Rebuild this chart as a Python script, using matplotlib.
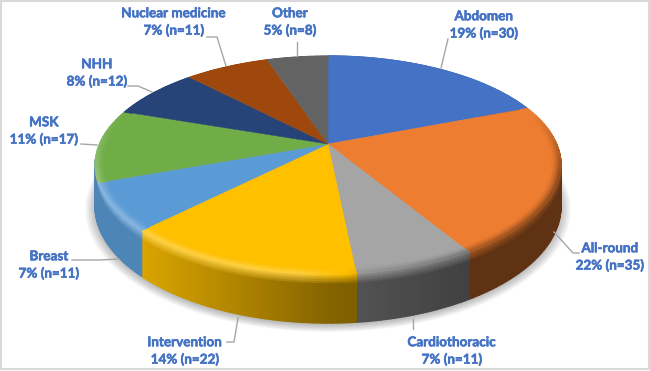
import matplotlib
import matplotlib.pyplot as plt
import matplotlib.patheffects as pe
import numpy as np

from matplotlib.collections import PolyCollection
from matplotlib.patches import Rectangle


matplotlib.use('Agg')

categories = ['Abdomen', 'All-round', 'Cardiothoracic', 'Intervention', 'Breast',
              'MSK', 'NHH', 'Nuclear medicine', 'Other']
counts = [30, 35, 11, 22, 11, 17, 12, 11, 8]
percents = [19, 22, 7, 14, 7, 11, 8, 7, 5]
colors = ['#4472c4', '#ed7d31', '#a5a5a5', '#ffc000', '#5b9bd5',
          '#70ad47', '#264478', '#9e480e', '#636363']

# centre of the two line label, in pixels
label_x = [484, 610, 452, 185, 49, 44, 97, 174, 290]
label_y = [25, 257, 351, 351, 265, 131, 73, 22, 22]

leader_lines = [
    [(441, 68), (448, 39)],
    [(554, 232), (573, 253), (579, 253)],
    [(413, 319), (413, 329)],
    [(238, 318), (234, 342), (227, 342)],
    [(119, 259), (100, 260), (72, 260)],
    [(97, 145), (81, 144)],
    [(152, 92), (138, 86), (128, 86)],
    [(226, 66), (217, 37), (207, 37)],
    [(297, 56), (297, 42)],
]

CENTER_X = 328
CENTER_Y = 144
SCALE_X = 228.6
SCALE_Y = 105
PERSPECTIVE = 0.193
WALL = 39.5
TEXT_COLOR = '#4472c4'


def project(theta: np.ndarray, radius: np.ndarray, drop: float = 0.0) -> tuple:
    """
    Project a point of the pie disc to pixels

    :param theta: clockwise angle from 12 o'clock, radians
    :param radius: radius, 1 is the rim
    :param drop: how far below the top face, in wall heights
    """
    px = radius * np.sin(theta)
    py = radius * np.cos(theta)
    w = 1 + PERSPECTIVE * py
    return CENTER_X + SCALE_X * px / w, CENTER_Y - SCALE_Y * py / w + drop * WALL / w


def wall_light(x: float) -> float:
    """
    Brightness of the side wall for a pixel column
    """
    return np.interp(x, [140, 330, 460, 560], [0.86, 0.52, 0.40, 0.40])


def rim_light(x: float, theta: float) -> float:
    """
    Bevel strength at the rim: above 0 goes to white, below 0 to black
    """
    front = np.clip((0.3 - np.cos(theta)) / 0.6, 0, 1)
    return np.interp(x, [90, 300, 360, 440, 560], [0.30, 0.25, -0.10, -0.25, -0.45]) * front


def blend(rgb: np.ndarray, amount: float) -> np.ndarray:
    """
    Mix a colour with white or black
    """
    if amount >= 0:
        return rgb + (1 - rgb) * amount
    return rgb * (1 + amount)


def draw_shadow(ax: plt.Axes) -> None:
    """
    Soft shadow under the pie
    """
    theta = np.linspace(0, 2 * np.pi, 361)
    for r in np.linspace(1.04, 1.0, 9):
        x, y = project(theta, np.full(theta.shape, r), 1.04)
        ax.fill(x, y, color='black', alpha=0.03, lw=0, zorder=1)


def draw_walls(ax: plt.Axes, starts: np.ndarray, ends: np.ndarray) -> None:
    """
    Side wall of the front slices, split in small cells for the shading
    """
    rows = [0, 0.03, 0.06, 0.09, 0.12, 0.16, 0.2, 1]
    last = categories.index('Breast')
    cells, faces = [], []
    for i in range(last + 1):
        rgb = np.array(matplotlib.colors.to_rgb(colors[i]))
        # the last front wall runs on round the left edge, the slices after it stay hidden
        end = ends[i] + (np.radians(12) if i == last else 0)
        steps = np.linspace(starts[i], end, max(2, int((end - starts[i]) * 60)))
        for t0, t1 in zip(steps[:-1], steps[1:]):
            tm = (t0 + t1) / 2
            xm = project(tm, 1.0)[0]
            wall_rgb = rgb * wall_light(xm)
            rim_rgb = blend(rgb, rim_light(xm, tm))
            for top, bottom in zip(rows[:-1], rows[1:]):
                x0, y0 = project(t0, 1.0, top)
                x1, y1 = project(t1, 1.0, top)
                x2, y2 = project(t1, 1.0, bottom)
                x3, y3 = project(t0, 1.0, bottom)
                cells.append([(x0, y0), (x1, y1), (x2, y2), (x3, y3)])
                mix = min(1.0, top / 0.2)
                faces.append(rim_rgb * (1 - mix) + wall_rgb * mix)
    ax.add_collection(PolyCollection(cells, facecolors=faces, edgecolors=faces,
                                     linewidths=1.0, zorder=2))


def draw_top(ax: plt.Axes, starts: np.ndarray, ends: np.ndarray) -> None:
    """
    Top face of the pie with a soft bevel along the rim
    """
    rings = np.linspace(0.96, 1.0, 6)
    cells, faces = [], []
    for start, end, color in zip(starts, ends, colors):
        theta = np.linspace(start, end, max(2, int((end - start) * 60)))
        x, y = project(theta, np.ones(theta.shape))
        ax.fill(np.r_[CENTER_X, x], np.r_[CENTER_Y, y], color=color, lw=0.3, zorder=3)

        rgb = np.array(matplotlib.colors.to_rgb(color))
        for t0, t1 in zip(theta[:-1], theta[1:]):
            tm = (t0 + t1) / 2
            amount = rim_light(project(tm, 1.0)[0], tm)
            for r0, r1 in zip(rings[:-1], rings[1:]):
                cells.append([project(t0, r0), project(t1, r0), project(t1, r1), project(t0, r1)])
                mix = ((r0 + r1) / 2 - rings[0]) / (rings[-1] - rings[0])
                faces.append(blend(rgb, amount * mix ** 1.5))
    ax.add_collection(PolyCollection(cells, facecolors=faces, edgecolors=faces,
                                     linewidths=0.8, zorder=4))


def draw_labels(ax: plt.Axes) -> None:
    """
    Leader lines and two line labels
    """
    for line in leader_lines:
        xs, ys = zip(*line)
        ax.plot(xs, ys, color='#a6a6a6', lw=1.0, zorder=5)

    for i, name in enumerate(categories):
        text = f"{name}\n{percents[i]}% (n={counts[i]})"
        label = ax.text(label_x[i], label_y[i], text, color=TEXT_COLOR, ha='center', va='center',
                        fontsize=9.7, family='Lato', fontweight='bold', linespacing=1.45, zorder=6)
        label.set_path_effects([pe.withStroke(linewidth=0.4, foreground=TEXT_COLOR)])


fig = plt.figure(figsize=(6.5, 3.71), dpi=100)
ax = fig.add_axes([0, 0, 1, 1])
ax.set_xlim(0, 650)
ax.set_ylim(371, 0)
ax.axis('off')

cumulative = np.cumsum(counts) / np.sum(counts) * 2 * np.pi
slice_ends = cumulative
slice_starts = np.r_[0, cumulative[:-1]]

ax.add_patch(Rectangle((0.7, 0.7), 648.3, 368.6, facecolor='white', edgecolor='#d9d9d9',
                       lw=1.5, zorder=0))
draw_shadow(ax)
draw_walls(ax, slice_starts, slice_ends)
draw_top(ax, slice_starts, slice_ends)
draw_labels(ax)

fig.savefig('out.png', dpi=100)
plt.close(fig)
